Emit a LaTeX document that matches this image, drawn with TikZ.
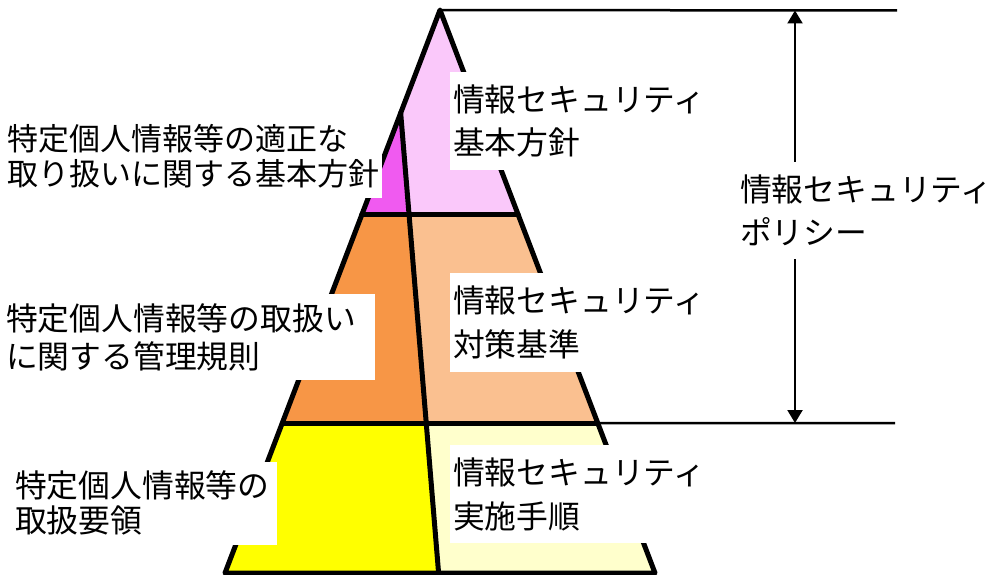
\documentclass[tikz,border=0pt]{standalone}
\usepackage{fontspec}
\setmainfont{Noto Sans CJK JP}
\usetikzlibrary{arrows.meta,calc}
\definecolor{pinkL}{RGB}{250,200,250}
\definecolor{magentaM}{RGB}{240,90,240}
\definecolor{orangeM}{RGB}{247,150,70}
\definecolor{orangeL}{RGB}{250,192,144}
\definecolor{yellowM}{RGB}{255,255,0}
\definecolor{creamL}{RGB}{255,255,204}
\begin{document}
\begin{tikzpicture}[x=1pt,y=-1pt,
  edge/.style={line width=5pt,line join=round,line cap=round},
  guide/.style={line width=2.5pt},
  dimarrow/.style={line width=2.2pt,{Triangle[width=15pt,length=13pt]}-{Triangle[width=15pt,length=13pt]}},
  lblbox/.style={fill=white,align=left,inner ysep=0pt},
  lfont/.style={font=\fontsize{31.8}{#1}\selectfont},
  ]
\useasboundingbox (0,0) rectangle (1006,575);
% pyramid corner points
\coordinate (A) at (440,10);
\coordinate (BL) at (225,573);
\coordinate (BR) at (655,573);
\coordinate (L1) at ($(A)!0.1829!(BL)$);
\coordinate (L2) at ($(A)!0.3641!(BL)$);
\coordinate (L3) at ($(A)!0.7336!(BL)$);
\coordinate (R2) at ($(A)!0.3641!(BR)$);
\coordinate (R3) at ($(A)!0.7336!(BR)$);
\coordinate (D4) at (438.6,573);
\coordinate (D2) at ($(L1)!0.2217!(D4)$);
\coordinate (D3) at ($(L1)!0.6739!(D4)$);
% fills
\fill[pinkL] (A) -- (L1) -- (D2) -- (R2) -- cycle;
\fill[magentaM] (L1) -- (L2) -- (D2) -- cycle;
\fill[orangeM] (L2) -- (L3) -- (D3) -- (D2) -- cycle;
\fill[orangeL] (D2) -- (D3) -- (R3) -- (R2) -- cycle;
\fill[yellowM] (L3) -- (BL) -- (D4) -- (D3) -- cycle;
\fill[creamL] (D3) -- (D4) -- (BR) -- (R3) -- cycle;
% outlines
\draw[edge] (A) -- (BL) -- (BR) -- cycle;
\draw[edge] (L2) -- (R2);
\draw[edge] (L3) -- (R3);
\draw[edge] (L1) -- (D4);
% policy range
\coordinate (TopEnd) at (897,10.5);
\coordinate (BotEnd) at (895,423);
\coordinate (ArT) at (795,10.5);
\coordinate (ArB) at (795,423);
\draw[guide] (A) -- (TopEnd);
\draw[guide] (R3) -- (BotEnd);
\draw[dimarrow] (ArT) -- (ArB);
% labels
\node[lblbox,font=\fontsize{31}{35}\selectfont,text width=372pt,inner xsep=2.5pt,minimum height=84pt] (tl) at (193.5,156) {特定個人情報等の適正な\\取り扱いに関する基本方針};
\node[lblbox,lfont=38,text width=363pt,inner xsep=6pt,minimum height=86pt] (ml) at (187.5,337) {特定個人情報等の取扱い\\に関する管理規則};
\node[lblbox,lfont=35,text width=260pt,inner xsep=2pt,minimum height=83pt] (bl) at (145,503) {特定個人情報等の\\取扱要領};
\node[lblbox,lfont=43,text width=261pt,inner xsep=3pt,minimum height=97pt] (rt) at (583.5,121) {情報セキュリティ\\基本方針};
\node[lblbox,lfont=44,text width=261pt,inner xsep=3pt,minimum height=99pt] (rm) at (583.5,322.5) {情報セキュリティ\\対策基準};
\node[lblbox,lfont=44,text width=261pt,inner xsep=3pt,minimum height=98pt] (rb) at (583.5,494) {情報セキュリティ\\実施手順};
\node[lblbox,lfont=43,text width=259pt,inner xsep=3pt,minimum height=97pt] (pol) at (869.5,210) {情報セキュリティ\\ポリシー};
\end{tikzpicture}
\end{document}
